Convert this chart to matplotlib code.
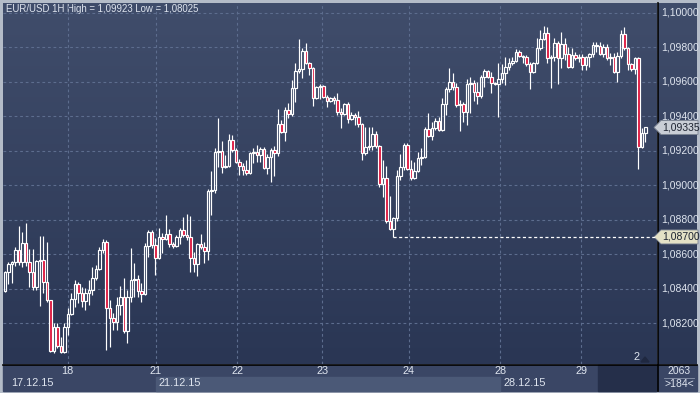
import numpy as np
import matplotlib.pyplot as plt
from matplotlib.patches import Rectangle, Polygon

# EUR/USD 1H bars, 17.12.15 .. 29.12.15 (184 bars)
opens = [
    1.08386, 1.08496, 1.08543, 1.08554, 1.08624, 1.08554, 1.08665, 1.08554, 1.08496, 1.08409,
    1.08560, 1.08566, 1.08438, 1.08334, 1.08038, 1.08178, 1.08067, 1.08032, 1.08178, 1.08253,
    1.08340, 1.08427, 1.08375, 1.08328, 1.08375, 1.08392, 1.08462, 1.08514, 1.08624, 1.08670,
    1.08288, 1.08230, 1.08206, 1.08305, 1.08351, 1.08154, 1.08351, 1.08450, 1.08456, 1.08386,
    1.08369, 1.08647, 1.08728, 1.08653, 1.08578, 1.08700, 1.08688, 1.08717, 1.08659, 1.08647,
    1.08700, 1.08740, 1.08711, 1.08700, 1.08578, 1.08543, 1.08659, 1.08641, 1.08618, 1.08966,
    1.08972, 1.09192, 1.09198, 1.09105, 1.09111, 1.09262, 1.09204, 1.09134, 1.09111, 1.09088,
    1.09071, 1.09187, 1.09192, 1.09175, 1.09210, 1.09100, 1.09163, 1.09204, 1.09187, 1.09355,
    1.09308, 1.09436, 1.09413, 1.09564, 1.09662, 1.09674, 1.09778, 1.09709, 1.09680, 1.09506,
    1.09569, 1.09575, 1.09511, 1.09488, 1.09506, 1.09494, 1.09424, 1.09413, 1.09471, 1.09384,
    1.09407, 1.09395, 1.09355, 1.09187, 1.09221, 1.09227, 1.09297, 1.09227, 1.09007, 1.09042,
    1.08792, 1.08746, 1.08810, 1.09053, 1.09105, 1.09233, 1.09094, 1.09042, 1.09082, 1.09158,
    1.09163, 1.09326, 1.09285, 1.09332, 1.09372, 1.09320, 1.09471, 1.09558, 1.09598, 1.09569,
    1.09465, 1.09471, 1.09424, 1.09587, 1.09593, 1.09540, 1.09517, 1.09627, 1.09662, 1.09627,
    1.09593, 1.09587, 1.09616, 1.09651, 1.09685, 1.09709, 1.09720, 1.09772, 1.09749, 1.09743,
    1.09703, 1.09656, 1.09709, 1.09796, 1.09848, 1.09883, 1.09738, 1.09743, 1.09825, 1.09738,
    1.09819, 1.09761, 1.09685, 1.09755, 1.09738, 1.09743, 1.09697, 1.09743, 1.09761, 1.09813,
    1.09807, 1.09761, 1.09801, 1.09738, 1.09743, 1.09656, 1.09749, 1.09877, 1.09796, 1.09703,
    1.09674, 1.09738, 1.09221, 1.09303,
]
highs = [
    1.08502, 1.08554, 1.08560, 1.08641, 1.08763, 1.08728, 1.08781, 1.08630, 1.08630, 1.08566,
    1.08706, 1.08706, 1.08670, 1.08334, 1.08201, 1.08201, 1.08120, 1.08201, 1.08288, 1.08375,
    1.08450, 1.08438, 1.08409, 1.08404, 1.08450, 1.08525, 1.08537, 1.08641, 1.08688, 1.08682,
    1.08334, 1.08259, 1.08351, 1.08415, 1.08462, 1.08392, 1.08636, 1.08549, 1.08479, 1.08433,
    1.08665, 1.08740, 1.08740, 1.08694, 1.08752, 1.08723, 1.08827, 1.08746, 1.08670, 1.08711,
    1.08752, 1.08815, 1.08833, 1.08821, 1.08612, 1.08665, 1.08717, 1.08670, 1.08978, 1.09082,
    1.09216, 1.09390, 1.09256, 1.09175, 1.09297, 1.09291, 1.09216, 1.09152, 1.09129, 1.09146,
    1.09192, 1.09216, 1.09233, 1.09221, 1.09221, 1.09181, 1.09216, 1.09227, 1.09442, 1.09378,
    1.09453, 1.09477, 1.09610, 1.09709, 1.09848, 1.09796, 1.09825, 1.09714, 1.09685, 1.09575,
    1.09587, 1.09581, 1.09523, 1.09511, 1.09517, 1.09535, 1.09448, 1.09477, 1.09482, 1.09424,
    1.09419, 1.09430, 1.09361, 1.09337, 1.09337, 1.09337, 1.09314, 1.09233, 1.09146, 1.09111,
    1.08937, 1.08815, 1.09088, 1.09181, 1.09245, 1.09245, 1.09146, 1.09134, 1.09192, 1.09216,
    1.09337, 1.09419, 1.09366, 1.09390, 1.09395, 1.09506, 1.09569, 1.09680, 1.09651, 1.09593,
    1.09494, 1.09482, 1.09616, 1.09627, 1.09610, 1.09598, 1.09639, 1.09674, 1.09668, 1.09656,
    1.09598, 1.09709, 1.09703, 1.09743, 1.09738, 1.09743, 1.09790, 1.09784, 1.09755, 1.09755,
    1.09714, 1.09714, 1.09854, 1.09900, 1.09923, 1.09917, 1.09755, 1.09854, 1.09836, 1.09888,
    1.09854, 1.09801, 1.09796, 1.09772, 1.09761, 1.09761, 1.09749, 1.09767, 1.09830, 1.09830,
    1.09830, 1.09819, 1.09819, 1.09767, 1.09767, 1.09772, 1.09900, 1.09917, 1.09801, 1.09709,
    1.09743, 1.09743, 1.09332, 1.09337,
]
lows = [
    1.08380, 1.08427, 1.08433, 1.08531, 1.08537, 1.08525, 1.08531, 1.08409, 1.08392, 1.08392,
    1.08299, 1.08375, 1.08322, 1.08032, 1.08027, 1.08056, 1.08025, 1.08027, 1.08131, 1.08247,
    1.08293, 1.08317, 1.08293, 1.08276, 1.08305, 1.08363, 1.08450, 1.08508, 1.08607, 1.08044,
    1.08061, 1.08160, 1.08160, 1.08247, 1.08143, 1.08085, 1.08322, 1.08351, 1.08351, 1.08322,
    1.08363, 1.08583, 1.08636, 1.08479, 1.08572, 1.08607, 1.08682, 1.08641, 1.08636, 1.08641,
    1.08659, 1.08700, 1.08682, 1.08496, 1.08496, 1.08473, 1.08630, 1.08549, 1.08566, 1.08827,
    1.08955, 1.09105, 1.09071, 1.09100, 1.09105, 1.09192, 1.09129, 1.09059, 1.09059, 1.09059,
    1.09065, 1.09129, 1.09134, 1.09134, 1.09094, 1.09065, 1.09018, 1.09053, 1.09169, 1.09303,
    1.09256, 1.09390, 1.09401, 1.09482, 1.09651, 1.09622, 1.09703, 1.09639, 1.09459, 1.09500,
    1.09500, 1.09506, 1.09453, 1.09482, 1.09471, 1.09407, 1.09332, 1.09407, 1.09361, 1.09378,
    1.09349, 1.09337, 1.09146, 1.09175, 1.09204, 1.09204, 1.09216, 1.08989, 1.08931, 1.08781,
    1.08740, 1.08700, 1.08792, 1.09030, 1.09088, 1.09088, 1.09030, 1.09036, 1.09076, 1.09117,
    1.09158, 1.09279, 1.09262, 1.09320, 1.09314, 1.09314, 1.09407, 1.09540, 1.09552, 1.09453,
    1.09314, 1.09366, 1.09349, 1.09419, 1.09488, 1.09471, 1.09506, 1.09569, 1.09622, 1.09535,
    1.09581, 1.09395, 1.09593, 1.09581, 1.09668, 1.09697, 1.09714, 1.09743, 1.09709, 1.09691,
    1.09558, 1.09651, 1.09703, 1.09784, 1.09842, 1.09709, 1.09564, 1.09720, 1.09587, 1.09680,
    1.09726, 1.09680, 1.09680, 1.09726, 1.09714, 1.09668, 1.09668, 1.09685, 1.09743, 1.09772,
    1.09755, 1.09743, 1.09726, 1.09697, 1.09651, 1.09598, 1.09738, 1.09784, 1.09668, 1.09662,
    1.09645, 1.09094, 1.09216, 1.09250,
]
closes = [
    1.08496, 1.08543, 1.08554, 1.08624, 1.08554, 1.08665, 1.08554, 1.08496, 1.08409, 1.08560,
    1.08566, 1.08438, 1.08334, 1.08038, 1.08178, 1.08067, 1.08032, 1.08178, 1.08253, 1.08340,
    1.08427, 1.08375, 1.08328, 1.08375, 1.08392, 1.08462, 1.08514, 1.08624, 1.08670, 1.08288,
    1.08230, 1.08206, 1.08305, 1.08351, 1.08154, 1.08351, 1.08450, 1.08456, 1.08386, 1.08369,
    1.08647, 1.08728, 1.08653, 1.08578, 1.08700, 1.08688, 1.08717, 1.08659, 1.08647, 1.08700,
    1.08740, 1.08711, 1.08700, 1.08578, 1.08543, 1.08659, 1.08641, 1.08618, 1.08966, 1.08972,
    1.09192, 1.09198, 1.09105, 1.09111, 1.09262, 1.09204, 1.09134, 1.09111, 1.09088, 1.09071,
    1.09187, 1.09192, 1.09175, 1.09210, 1.09100, 1.09163, 1.09204, 1.09187, 1.09355, 1.09308,
    1.09436, 1.09413, 1.09564, 1.09662, 1.09674, 1.09778, 1.09709, 1.09680, 1.09506, 1.09569,
    1.09575, 1.09511, 1.09488, 1.09506, 1.09494, 1.09424, 1.09413, 1.09471, 1.09384, 1.09407,
    1.09395, 1.09355, 1.09187, 1.09221, 1.09227, 1.09297, 1.09227, 1.09007, 1.09042, 1.08792,
    1.08746, 1.08810, 1.09053, 1.09105, 1.09233, 1.09094, 1.09042, 1.09082, 1.09158, 1.09163,
    1.09326, 1.09285, 1.09332, 1.09372, 1.09320, 1.09471, 1.09558, 1.09598, 1.09569, 1.09465,
    1.09471, 1.09424, 1.09587, 1.09593, 1.09540, 1.09517, 1.09627, 1.09662, 1.09627, 1.09593,
    1.09587, 1.09616, 1.09651, 1.09685, 1.09709, 1.09720, 1.09772, 1.09749, 1.09743, 1.09703,
    1.09656, 1.09709, 1.09796, 1.09848, 1.09883, 1.09738, 1.09743, 1.09825, 1.09738, 1.09819,
    1.09761, 1.09685, 1.09755, 1.09738, 1.09743, 1.09697, 1.09743, 1.09761, 1.09813, 1.09807,
    1.09761, 1.09801, 1.09738, 1.09743, 1.09656, 1.09749, 1.09877, 1.09796, 1.09703, 1.09674,
    1.09738, 1.09221, 1.09303, 1.09335,
]

price_levels = [1.082, 1.084, 1.086, 1.088, 1.090, 1.092, 1.094, 1.096, 1.098, 1.100]
price_labels = ['1,08200', '1,08400', '1,08600', '1,08800', '1,09000',
                '1,09200', '1,09400', '1,09600', '1,09800', '1,10000']
day_pos = [17.9, 43.1, 66.4, 90.7, 115.3, 141.5, 164.7]      # bar index of 00:00
day_labels = ['18', '21', '22', '23', '24', '28', '29']
date_labels = ['17.12.15', '21.12.15', '28.12.15']
last_price = 1.09335
last_label = '1,09335'
mark_level = 1.08700
mark_label = '1,08700'
title = 'EUR/USD 1H High = 1,09923 Low = 1,08025'

BG_TOP = np.array([64, 77, 107]) / 255
BG_BOT = np.array([42, 54, 84]) / 255
GRID = '#5d6d8e'
RED = '#dc143c'
TXT = '#dfe5ef'
FONT = 'Liberation Sans'

W, H = 700, 393
fig = plt.figure(figsize=(7, 3.93), dpi=100)
fig.patch.set_facecolor('#b4bcc8')

# panels in pixel coordinates (y downwards)
bg = fig.add_axes([0, 0, 1, 1])
bg.set_xlim(0, W)
bg.set_ylim(H, 0)
bg.axis('off')
t = np.linspace(0, 1, 200)[:, None, None]
grad = BG_TOP[None, None, :] * (1 - t) + BG_BOT[None, None, :] * t
bg.imshow(grad, extent=[3, 657, 364, 3], aspect='auto', zorder=0)
bg.imshow(grad, extent=[658, 697, 364, 3], aspect='auto', zorder=0)
bg.add_patch(Rectangle((3, 365), 654, 26, color='#3a4665', zorder=1))
bg.add_patch(Rectangle((658, 365), 39, 26, color='#3a4665', zorder=1))
bg.plot([657.5, 657.5], [3, 391], color='black', lw=1.2, zorder=3)
bg.plot([3, 697], [364.5, 364.5], color='black', lw=1.2, zorder=3)
bg.set_xlim(0, W)
bg.set_ylim(H, 0)

# price chart
ax = fig.add_axes([3 / W, 1 - 364 / H, 654 / W, 361 / H])
ax.patch.set_alpha(0)
ax.set_xlim(-0.57, 186.3)
ax.set_ylim(1.07963, 1.10057)
for s in ax.spines.values():
    s.set_visible(False)
ax.set_xticks([])
ax.set_yticks([])

ax.hlines(price_levels, -0.57, 186.3, colors=GRID, linestyles=(0, (2.5, 2.5)), lw=0.8, zorder=1)
ax.vlines(day_pos, 1.07963, 1.10057, colors=GRID, linestyles=(0, (2.5, 2.5)), lw=0.8, zorder=1)

o = np.array(opens)
h = np.array(highs)
l = np.array(lows)
c = np.array(closes)
x = np.arange(len(c))
top = np.maximum(o, c)
bot = np.minimum(o, c)
up = c >= o
face = ['none' if u else RED for u in up]

ax.vlines(x, top, np.maximum(h, top), colors='white', lw=0.85, zorder=3)
ax.vlines(x, np.minimum(l, bot), bot, colors='white', lw=0.85, zorder=3)
ax.bar(x, np.maximum(top - bot, 0.00001), bottom=bot, width=0.66, color=face,
       edgecolor='white', linewidth=0.85, zorder=4)

mark_i = int(np.argmin(np.abs(l - mark_level) + (x < 100)))
ax.hlines(mark_level, mark_i, 186.3, colors='white', linestyles=(0, (2.5, 2)), lw=0.9, zorder=2)


def px(xd, yd):
    fx, fy = ax.transData.transform((xd, yd))
    return fx, H - fy


# right price scale
for lev, lab in zip(price_levels, price_labels):
    _, yp = px(0, lev)
    bg.text(661, yp, lab, color=TXT, fontsize=7.5, family=FONT, va='center', ha='left', zorder=5)

for lev, lab, col in [(last_price, last_label, '#c9ced6'), (mark_level, mark_label, '#e4e1c6')]:
    _, yp = px(0, lev)
    bg.add_patch(Polygon([(654, yp), (661, yp - 7), (698, yp - 7), (698, yp + 7), (661, yp + 7)],
                         closed=True, facecolor=col, edgecolor='#7d8594', lw=0.6, zorder=6))
    bg.text(662, yp, lab, color='#1c2230', fontsize=7.5, family=FONT, va='center', ha='left', zorder=7)

# title
bg.text(6, 9, title, color=TXT, fontsize=6.9, family=FONT, va='center', ha='left', zorder=5)

# time axis
day_px = [px(d, 0)[0] for d in day_pos]
bg.add_patch(Rectangle((day_px[1], 377), day_px[5] - day_px[1], 14, color='#4b5977', zorder=2))
bg.add_patch(Rectangle((598, 365), 58, 26, color='#252f4a', zorder=2))
for xp, lab in zip(day_px, day_labels):
    bg.text(xp, 371, lab, color=TXT, fontsize=7.8, family=FONT, va='center', ha='center', zorder=5)
for xp, lab in zip([8, day_px[1], day_px[5]], date_labels):
    bg.text(xp + 3, 383.5, lab, color=TXT, fontsize=7.8, family=FONT, va='center', ha='left', zorder=5)

bg.text(636, 357, '2', color=TXT, fontsize=7.8, family=FONT, va='center', ha='center', zorder=5)
bg.add_patch(Polygon([(641, 362), (645, 357), (649, 362)], closed=True, color='#1f2840', zorder=5))
bg.text(679, 371, '2063', color=TXT, fontsize=7.5, family=FONT, va='center', ha='center', zorder=5)
bg.plot([664, 694], [377.5, 377.5], color='#8c97ac', lw=0.6, zorder=5)
bg.text(679, 384, '>184<', color=TXT, fontsize=7.5, family=FONT, va='center', ha='center', zorder=5)

fig.savefig('out.png', dpi=100, facecolor=fig.get_facecolor())
